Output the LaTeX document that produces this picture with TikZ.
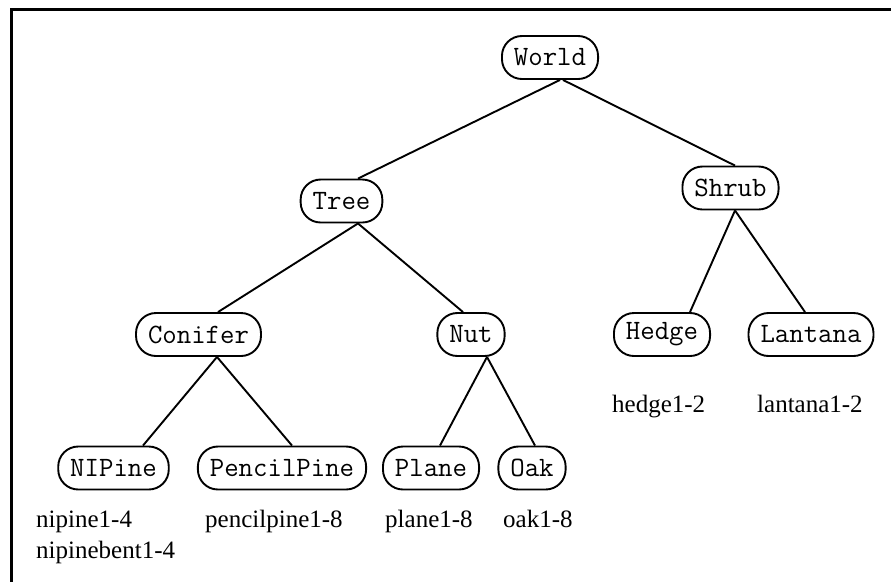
\documentclass[tikz,border=0pt]{standalone}
\usepackage{fontspec}
\newfontfamily\labelfont{Liberation Serif}
\begin{document}
\begin{tikzpicture}[x=1pt,y=1pt,
  cls/.style={draw, line width=1.9pt, rounded corners=20pt, minimum height=43pt,
    inner xsep=12pt, inner ysep=0pt, font=\fontsize{28}{28}\selectfont\ttfamily},
  link/.style={line width=1.9pt},
  inst/.style={anchor=base west, inner sep=0pt, font=\fontsize{25}{25}\selectfont\labelfont}]
\useasboundingbox (0,0) rectangle (891,-582);
% frame
\draw[line width=2.4pt] (891,-9.5) -- (11.5,-9.5) -- (11.5,-582);

% class hierarchy
\node[cls] (world)   at (550,-57.5) {World};
\node[cls] (tree)    at (341.5,-201) {Tree};
\node[cls] (shrub)   at (730.5,-188) {Shrub};
\node[cls] (conifer) at (198.5,-334.5) {Conifer};
\node[cls] (nut)     at (471,-334.5) {Nut};
\node[cls] (hedge)   at (662,-334.5) {Hedge};
\node[cls] (lantana) at (811,-334.5) {Lantana};
\node[cls] (nipine)  at (113.5,-468) {NIPine};
\node[cls] (pencil)  at (282,-468) {PencilPine};
\node[cls] (plane)   at (431,-468) {Plane};
\node[cls] (oak)     at (532,-468) {Oak};

% links
\draw[link] ([xshift=10pt]world.south)  -- ([xshift=16.5pt]tree.north);
\draw[link] ([xshift=13pt]world.south)  -- ([xshift=4.5pt]shrub.north);
\draw[link] ([xshift=16.5pt]tree.south) -- ([xshift=19.5pt]conifer.north);
\draw[link] ([xshift=16.5pt]tree.south) -- ([xshift=-8pt]nut.north);
\draw[link] ([xshift=18.5pt]conifer.south) -- ([xshift=29.5pt]nipine.north);
\draw[link] ([xshift=18.5pt]conifer.south) -- ([xshift=10pt]pencil.north);
\draw[link] ([xshift=16pt]nut.south) -- ([xshift=9pt]plane.north);
\draw[link] ([xshift=16pt]nut.south) -- ([xshift=3pt]oak.north);
\draw[link] ([xshift=4.5pt]shrub.south) -- ([xshift=28pt]hedge.north);
\draw[link] ([xshift=4.5pt]shrub.south) -- ([xshift=-6pt]lantana.north);

% instances
\node[inst] (i1) at (36,-527)  {nipine1-4};
\node[inst] (i2) at (36,-558)  {nipinebent1-4};
\node[inst] (i3) at (205,-527) {pencilpine1-8};
\node[inst] (i4) at (385,-527) {plane1-8};
\node[inst] (i5) at (503,-527) {oak1-8};
\node[inst] (i6) at (612,-412) {hedge1-2};
\node[inst] (i7) at (757,-412) {lantana1-2};
\end{tikzpicture}
\end{document}
